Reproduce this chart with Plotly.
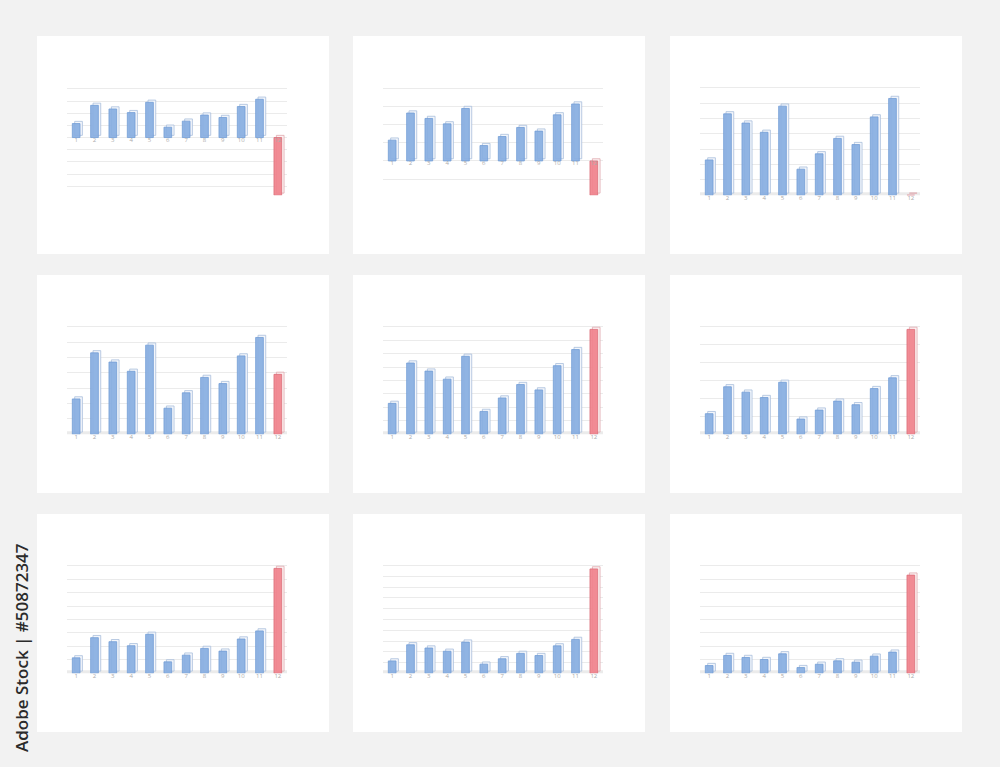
import plotly.graph_objects as go

# twelve months, eleven blue bars shared by every panel, last bar varies
months = [str(m) for m in range(1, 13)]
blue_vals = [23, 53, 47, 41, 58, 17, 27, 37, 33, 51, 63]
last_vals = [-95, -38, 0, 39, 78, 117, 156, 194, 292]

y_ranges = [(-95, 82), (-38, 81), (0, 70), (0, 70), (0, 80),
            (0, 120), (0, 160), (0, 200), (0, 320)]
grid_steps = [20, 20, 10, 10, 10, 20, 20, 20, 40]

W, H = 1000, 767
panel_x = [37, 353, 670]
panel_y = [36, 275, 514]
panel_w, panel_h = 292, 218

BLUE, BLUE_LINE = "rgba(136,174,225,0.92)", "#729dd6"
RED, RED_LINE = "rgba(240,130,140,0.92)", "#dc6d78"
BLUE_SIDE, BLUE_SIDE_LINE = "#f3f6fb", "#aabfdc"
RED_SIDE, RED_SIDE_LINE = "#fcf1f2", "#dfa9ae"

PAD = 0.03  # headroom so the top gridline is not dropped at the plot edge

fig = go.Figure()
shapes = []
layout = {}

for i in range(9):
    n = i + 1
    px0 = panel_x[i % 3]
    py0 = panel_y[i // 3]
    xa = "x" if n == 1 else f"x{n}"
    ya = "y" if n == 1 else f"y{n}"

    vals = blue_vals + [last_vals[i]]
    lo, hi = y_ranges[i]
    span = hi - lo
    d = 2.2 * span / 108.0  # depth of the fake 3d side, in data units

    front_col = [BLUE] * 11 + [RED]
    front_line = [BLUE_LINE] * 11 + [RED_LINE]
    side_col = [BLUE_SIDE] * 11 + [RED_SIDE]
    side_line = [BLUE_SIDE_LINE] * 11 + [RED_SIDE_LINE]

    # white card behind each chart
    shapes.append(dict(type="rect", xref="paper", yref="paper", layer="below",
                       x0=px0 / W, x1=(px0 + panel_w) / W,
                       y0=1 - (py0 + panel_h) / H, y1=1 - py0 / H,
                       fillcolor="white", line=dict(width=0)))
    if lo >= 0:
        shapes.append(dict(type="rect", xref=f"{xa} domain", yref=ya, layer="below",
                           x0=0, x1=1, ysizemode="pixel", yanchor=0, y0=-3, y1=3,
                           fillcolor="#ebebeb", line=dict(width=0)))

    fig.add_trace(go.Bar(x=months, y=vals, base=d, width=0.42, offset=-0.08,
                         marker=dict(color=side_col, line=dict(color=side_line, width=0.8)),
                         xaxis=xa, yaxis=ya, showlegend=False, hoverinfo="skip"))
    fig.add_trace(go.Bar(x=months, y=vals, width=0.42, offset=-0.21,
                         marker=dict(color=front_col, line=dict(color=front_line, width=0.8)),
                         xaxis=xa, yaxis=ya, showlegend=False))
    fig.add_trace(go.Scatter(x=months, y=[0] * 12, mode="text", text=months,
                             textposition="bottom center", cliponaxis=False,
                             textfont=dict(size=6, color="#ababab", family="Open Sans"),
                             xaxis=xa, yaxis=ya, showlegend=False, hoverinfo="skip"))

    key = "" if n == 1 else str(n)
    top_px = py0 + 51.7 - 107.6 * PAD
    layout["xaxis" + key] = dict(domain=[(px0 + 30) / W, (px0 + 250) / W],
                                 anchor=ya, range=[-0.5, 11.5], showgrid=False,
                                 showticklabels=False, ticks="", zeroline=False,
                                 showline=False, fixedrange=True)
    layout["yaxis" + key] = dict(domain=[1 - (py0 + 159.3) / H, 1 - top_px / H],
                                 anchor=xa, range=[lo, hi + span * PAD], dtick=grid_steps[i],
                                 showgrid=True, gridcolor="#ebebeb", gridwidth=1,
                                 showticklabels=False, ticks="", zeroline=False,
                                 showline=False, fixedrange=True)

fig.update_layout(
    width=W, height=H,
    margin=dict(l=0, r=0, t=0, b=0),
    paper_bgcolor="#f2f2f2",
    plot_bgcolor="white",
    barmode="overlay",
    shapes=shapes,
    annotations=[dict(text="Adobe Stock | #50872347", textangle=-90,
                      xref="paper", yref="paper", x=21 / W, y=1 - 648 / H,
                      showarrow=False, xanchor="center", yanchor="middle",
                      font=dict(size=17, color="#2b2b2b", family="Open Sans", weight=600))],
    **layout,
)

# drop the browser's default page margin so the figure sits at the window corner
fig.write_html("out.html", config={"displayModeBar": False},
               post_script="document.body.style.margin='0';document.body.style.overflow='hidden';")
